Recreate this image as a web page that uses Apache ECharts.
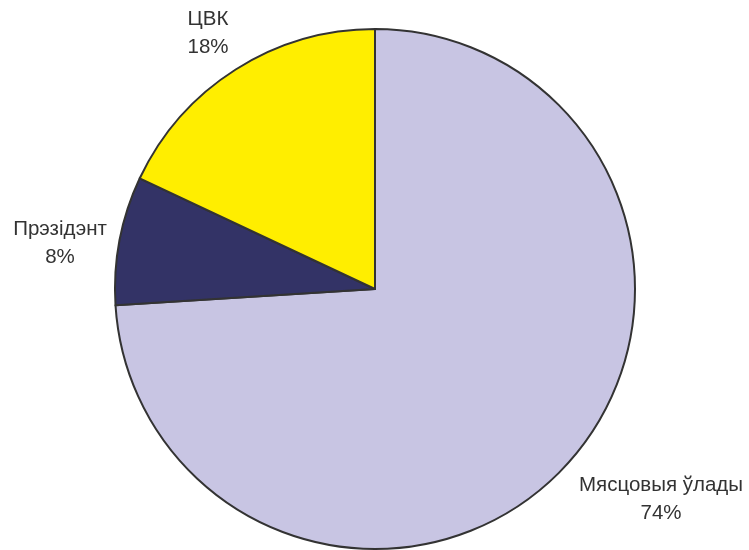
<!DOCTYPE html>
<html>
<head>
<meta charset="utf-8">
<script src="https://cdn.jsdelivr.net/npm/echarts@6/dist/echarts.min.js"></script>
<style>
  html, body { margin: 0; padding: 0; background: #ffffff; }
  #chart { width: 749px; height: 550px; }
</style>
</head>
<body>
<div id="chart"></div>
<script>
// Shares of responsibility, clockwise from 12 o'clock
const categories = ['Мясцовыя ўлады', 'Прэзідэнт', 'ЦВК'];
const shares = [74, 8, 18];
const sliceColors = ['#C8C5E3', '#333366', '#FFEE00'];

// Label anchor points (pixels) for each slice's caption
const labelSpots = [[661, 499], [60, 243], [208, 33]];

const chart = echarts.init(document.getElementById('chart'), null, { renderer: 'canvas' });

chart.setOption({
  animation: false,
  backgroundColor: '#ffffff',
  series: [{
    type: 'pie',
    center: [375, 289],
    radius: 260,
    startAngle: 90,
    clockwise: true,
    data: categories.map((name, i) => ({
      name,
      value: shares[i],
      itemStyle: { color: sliceColors[i] }
    })),
    itemStyle: { borderColor: '#333333', borderWidth: 2 },
    label: {
      show: true,
      position: 'outside',
      formatter: p => p.name + '\n' + p.value + '%',
      fontFamily: 'Liberation Sans, Arial, sans-serif',
      fontSize: 20.5,
      lineHeight: 28,
      color: '#333333',
      align: 'center',
      overflow: 'none',
      width: 220
    },
    labelLine: { show: false },
    labelLayout: params => ({
      x: labelSpots[params.dataIndex][0],
      y: labelSpots[params.dataIndex][1],
      align: 'center',
      verticalAlign: 'middle'
    }),
    emphasis: { disabled: true }
  }]
});
</script>
</body>
</html>
